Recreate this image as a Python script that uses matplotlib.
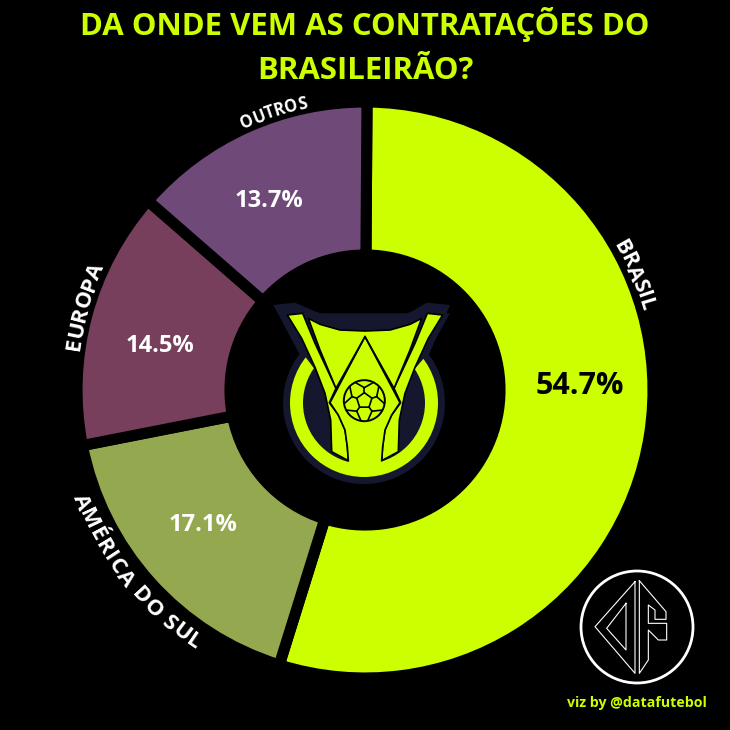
import matplotlib
matplotlib.use("Agg")
import matplotlib.pyplot as plt
from matplotlib.patches import Circle, Polygon
from matplotlib.font_manager import FontProperties
from matplotlib.textpath import TextToPath
import numpy as np

plt.rcParams['font.family'] = ['Open Sans', 'DejaVu Sans']

categories = ['BRASIL', 'AMÉRICA DO SUL', 'EUROPA', 'OUTROS']
shares = [54.7, 17.1, 14.5, 13.7]
pct_labels = ['54.7%', '17.1%', '14.5%', '13.7%']
colors = ['#CCFF00', '#94A850', '#773F5C', '#6F4A79']

LIME = '#CCFF00'
NAVY = '#14172E'
cx, cy = 365, 340   # centre of the donut, y measured from the bottom

fig = plt.figure(figsize=(7.3, 7.3), dpi=100, facecolor='black')
ax = fig.add_axes([0, 0, 1, 1])
ax.pie(shares, colors=colors, startangle=89.6, counterclock=False, center=(cx, cy),
       radius=288, wedgeprops=dict(width=153, edgecolor='black', linewidth=8))
ax.set_xlim(0, 730)
ax.set_ylim(0, 730)
ax.set_aspect('equal')
ax.axis('off')

# percentages
pct_pos = [(580, 386), (203, 525), (160, 346), (269, 201)]
pct_col = ['black', 'white', 'white', 'white']
pct_size = [22, 17, 17, 17]
for s, p, c, fs in zip(pct_labels, pct_pos, pct_col, pct_size):
    ax.text(p[0], 730 - p[1], s, color=c, fontsize=fs, fontweight='bold', ha='center', va='center')


# curved labels, one letter at a time
def arc_text(s, mid, fs, r, clockwise=True, stretch=1.0):
    prop = FontProperties(family='Open Sans', weight='bold', size=fs)
    t2p = TextToPath()
    width = lambda x: t2p.get_text_width_height_descent(x, prop, False)[0] * 100 / 72
    total = width(s)
    for i, ch in enumerate(s):
        if ch == ' ':
            continue
        pos = (width(s[:i + 1]) - width(ch) / 2 - total / 2) * stretch
        d = np.degrees(pos / r)
        th = mid - d if clockwise else mid + d
        x = cx + r * np.cos(np.radians(th))
        y = cy + r * np.sin(np.radians(th))
        rot = th - 90 if clockwise else th + 90
        ax.text(x, y, ch, color='white', fontsize=fs, fontweight='bold', ha='center', va='center',
                rotation=rot, rotation_mode='anchor')


arc_text(categories[0], 23.2, 15.5, 293)
arc_text(categories[1], 218.5, 16, 305, clockwise=False, stretch=1.05)
arc_text(categories[2], 163.5, 16, 294)
arc_text(categories[3], 108.2, 12, 293)

# title
ax.text(365, 730 - 35, 'DA ONDE VEM AS CONTRATAÇÕES DO', color=LIME, fontsize=22.4, fontweight='bold',
        ha='center', va='baseline')
ax.text(365, 730 - 79, 'BRASILEIRÃO?', color=LIME, fontsize=22.4, fontweight='bold', ha='center', va='baseline')
ax.text(637, 730 - 703, 'viz by @datafutebol', color=LIME, fontsize=10.2, fontweight='bold', ha='center', va='center')


# badge in the hole, traced in 3x crop coordinates
def bz(pts):
    a = np.array(pts, dtype=float)
    return np.column_stack([230 + a[:, 0] / 3, 730 - (280 + a[:, 1] / 3)])


def mirror(pts):
    return [(810 - x, y) for x, y in pts]


ax.add_patch(Circle((364, 730 - 403), 81, fc=NAVY, ec='none'))
ax.add_patch(Polygon(bz([(130, 75), (195, 68), (250, 92), (320, 118), (405, 125), (490, 118), (550, 92), (590, 68),
                         (660, 75), (590, 240), (500, 370), (300, 370), (215, 235)]), fc=NAVY, ec='none'))
ax.add_patch(Circle((364, 730 - 403), 74, fc=LIME, ec='none'))
ax.add_patch(Circle((364, 730 - 403), 61, fc=NAVY, ec='none'))
ax.add_patch(Polygon(bz([(150, 100), (660, 100), (590, 225), (500, 330), (300, 330), (222, 225)]), fc=NAVY, ec='none'))

left_prong = [(172, 105), (218, 100), (255, 190), (318, 325), (298, 368), (325, 405), (345, 450), (352, 500),
              (355, 542), (305, 515), (302, 420), (285, 340), (255, 262), (215, 175)]
ax.add_patch(Polygon(bz(left_prong), fc=LIME, ec='black', lw=1.2, joinstyle='miter'))
ax.add_patch(Polygon(bz(mirror(left_prong)), fc=LIME, ec='black', lw=1.2, joinstyle='miter'))
ax.add_patch(Polygon(bz([(235, 115), (270, 133), (330, 150), (405, 153), (480, 150), (540, 133), (575, 115),
                         (540, 210), (492, 325), (405, 170), (318, 325), (270, 210)]),
                     fc=LIME, ec='black', lw=1.2, joinstyle='miter'))
column = [(405, 175), (510, 368), (485, 405), (465, 450), (458, 500), (455, 542), (455, 580), (355, 580), (355, 542),
          (352, 500), (345, 450), (325, 405), (300, 368)]
ax.add_patch(Polygon(bz(column), fc=LIME, ec='none'))
edge_l = bz([(405, 170), (300, 368), (325, 405), (345, 450), (352, 500), (355, 542)])
edge_r = bz([(405, 170), (510, 368), (485, 405), (465, 450), (458, 500), (455, 542)])
ax.plot(edge_l[:, 0], edge_l[:, 1], color='black', lw=1.2)
ax.plot(edge_r[:, 0], edge_r[:, 1], color='black', lw=1.2)

# ball
ball = (230 + 403 / 3, 730 - (280 + 362 / 3))
ax.add_patch(Circle(ball, 20.5, fc=LIME, ec='black', lw=1.4))
ang = np.radians(90 + 72 * np.arange(5))
inner = np.column_stack([ball[0] + 8 * np.cos(ang), ball[1] + 8 * np.sin(ang)])
ax.add_patch(Polygon(inner, fc=LIME, ec='black', lw=1.2))
for a in ang:
    ax.plot([ball[0] + 8 * np.cos(a), ball[0] + 13 * np.cos(a)],
            [ball[1] + 8 * np.sin(a), ball[1] + 13 * np.sin(a)], color='black', lw=1.2)
    for d in (-0.45, 0.45):
        ax.plot([ball[0] + 13 * np.cos(a), ball[0] + 20 * np.cos(a + d)],
                [ball[1] + 13 * np.sin(a), ball[1] + 20 * np.sin(a + d)], color='black', lw=1.2)


# data futebol logo
def lz(pts):
    a = np.array(pts, dtype=float)
    return np.column_stack([560 + a[:, 0] / 3, 730 - (560 + a[:, 1] / 3)])


ax.add_patch(Circle((637, 730 - 627), 56, fc='none', ec='white', lw=2))
for shape in ([(225, 65), (105, 200), (225, 340), (225, 65)],
              [(198, 130), (140, 205), (198, 270), (198, 130)],
              [(238, 62), (318, 155), (318, 178), (285, 178), (285, 150), (265, 135), (265, 190), (320, 190),
               (320, 240), (295, 240), (265, 210), (265, 300), (238, 340), (238, 62)]):
    p = lz(shape)
    ax.plot(p[:, 0], p[:, 1], color='white', lw=0.8)

fig.savefig('out.png', dpi=100, facecolor='black')
